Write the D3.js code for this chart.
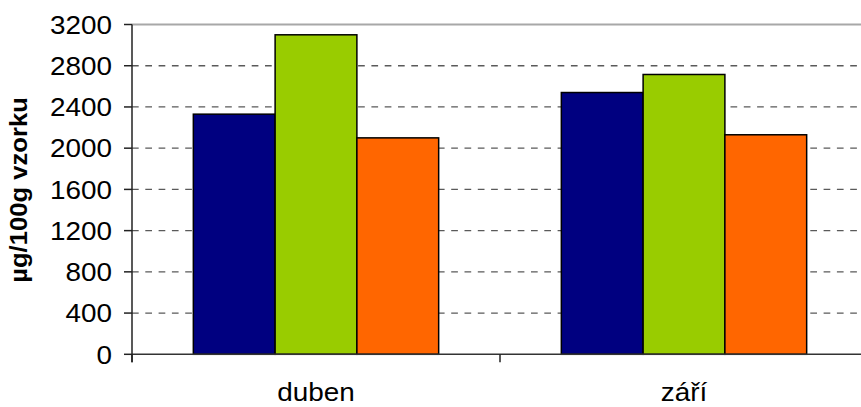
<!DOCTYPE html>
<html>
<head>
<meta charset="utf-8">
<script src="https://cdn.jsdelivr.net/npm/d3@7"></script>
<style>
  html, body { margin: 0; padding: 0; background: #fff; }
  svg { display: block; }
  text { font-family: "Liberation Sans", Arial, sans-serif; fill: #000; }
</style>
</head>
<body>
<svg id="chart" width="861" height="407"></svg>
<script>
// Measurements per month (µg/100g vzorku)
const categories = ["duben", "září"];
const series = ["vzorek 1", "vzorek 2", "vzorek 3"];
const values1 = [2330, 2540];
const values2 = [3100, 2715];
const values3 = [2100, 2130];
const yTicks = [0, 400, 800, 1200, 1600, 2000, 2400, 2800, 3200];
const yTitle = "µg/100g vzorku";

const colors = ["#000080", "#99CC00", "#FF6600"];
const seriesValues = [values1, values2, values3];

const svg = d3.select("#chart");
const plotLeft = 132, plotRight = 868, plotTop = 24.5, plotBottom = 354.3;

const x0 = d3.scaleBand().domain(categories).range([plotLeft, plotRight]).paddingInner(0).paddingOuter(0);
const x1 = d3.scaleBand().domain(series).range([0, x0.bandwidth()]).paddingInner(0).paddingOuter(0.75);
const y = d3.scaleLinear().domain([0, 3200]).range([plotBottom, plotTop]);

// horizontal gridlines
const grid = svg.append("g");
yTicks.filter(t => t > 0 && t < 3200).forEach(t => {
  grid.append("line")
    .attr("x1", plotLeft).attr("x2", 861)
    .attr("y1", y(t)).attr("y2", y(t))
    .attr("stroke", "#5a5a5a").attr("stroke-width", 1.3)
    .attr("stroke-dasharray", "6.7,6.6");
});
// top boundary of the plot
grid.append("line")
  .attr("x1", plotLeft).attr("x2", 861)
  .attr("y1", y(3200)).attr("y2", y(3200))
  .attr("stroke", "#a8a8a8").attr("stroke-width", 2);

// bars
const groups = svg.append("g").selectAll("g")
  .data(categories)
  .join("g")
  .attr("transform", d => `translate(${x0(d)},0)`);

groups.selectAll("rect")
  .data((d, i) => series.map((s, k) => ({ s, k, v: seriesValues[k][i] })))
  .join("rect")
  .attr("x", d => x1(d.s))
  .attr("width", x1.bandwidth())
  .attr("y", d => y(d.v))
  .attr("height", d => y(0) - y(d.v))
  .attr("fill", d => colors[d.k])
  .attr("stroke", "#000")
  .attr("stroke-width", 1.5);

// x axis line with category boundary ticks
svg.append("line")
  .attr("x1", plotLeft).attr("x2", 861)
  .attr("y1", plotBottom).attr("y2", plotBottom)
  .attr("stroke", "#333").attr("stroke-width", 1.5);
const bounds = categories.map(c => x0(c)).concat([plotRight]);
bounds.forEach(bx => {
  svg.append("line")
    .attr("x1", bx).attr("x2", bx)
    .attr("y1", plotBottom).attr("y2", plotBottom + 8)
    .attr("stroke", "#222").attr("stroke-width", 1.5);
});

// y axis line and ticks
svg.append("line")
  .attr("x1", plotLeft).attr("x2", plotLeft)
  .attr("y1", plotTop).attr("y2", plotBottom + 8)
  .attr("stroke", "#222").attr("stroke-width", 1.5);
yTicks.forEach(t => {
  svg.append("line")
    .attr("x1", plotLeft - 8).attr("x2", plotLeft)
    .attr("y1", y(t)).attr("y2", y(t))
    .attr("stroke", "#222").attr("stroke-width", 1.5);
  svg.append("text")
    .attr("transform", `translate(112,${y(t) + 9.2}) scale(1.09,1)`)
    .attr("text-anchor", "end")
    .attr("font-size", "25.6px")
    .text(t);
});

// category labels
categories.forEach(c => {
  svg.append("text")
    .attr("transform", `translate(${x0(c) + x0.bandwidth() / 2},401) scale(1.09,1)`)
    .attr("text-anchor", "middle")
    .attr("font-size", "25.6px")
    .text(c);
});

// y axis title
svg.append("text")
  .attr("transform", `translate(27,190) rotate(-90) scale(1.09,1)`)
  .attr("text-anchor", "middle")
  .attr("font-size", "23.5px")
  .attr("font-weight", "bold")
  .text(yTitle);
</script>
</body>
</html>
